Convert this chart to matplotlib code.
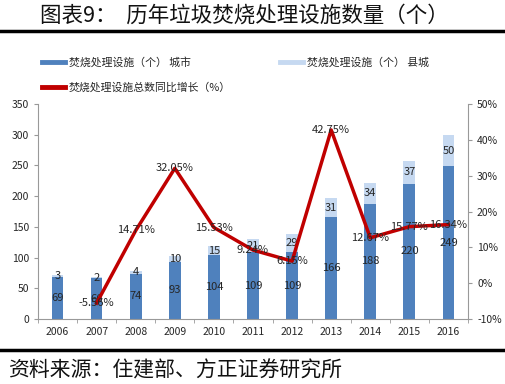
import numpy as np
import matplotlib
matplotlib.use("Agg")
import matplotlib.pyplot as plt
from matplotlib.lines import Line2D

plt.rcParams['font.family'] = ['Noto Sans CJK SC', 'DejaVu Sans']

years = ["2006", "2007", "2008", "2009", "2010", "2011", "2012", "2013", "2014", "2015", "2016"]
city = [69, 66, 74, 93, 104, 109, 109, 166, 188, 220, 249]
county = [3, 2, 4, 10, 15, 21, 29, 31, 34, 37, 50]
growth = [None, -5.56, 14.71, 32.05, 15.53, 9.24, 6.15, 42.75, 12.67, 15.77, 16.34]

C_CITY = "#4F81BD"
C_COUNTY = "#C6D9F1"
C_LINE = "#C00000"
TXT = "#262626"

fig = plt.figure(figsize=(5.05, 3.84), dpi=100)

# title and rules
fig.text(40 / 505, 1 - 16 / 384, "图表9：  历年垃圾焚烧处理设施数量（个）",
         fontsize=15.5, va="center", ha="left", color="#111111")
fig.add_artist(Line2D([0, 1], [1 - 31 / 384] * 2, color="black", lw=2.5))
fig.add_artist(Line2D([0, 1], [1 - 350 / 384] * 2, color="black", lw=2.5))
fig.text(8 / 505, 1 - 370 / 384, "资料来源：住建部、方正证券研究所",
         fontsize=15, va="center", ha="left", color="#111111", style="italic")

ax = fig.add_axes([38 / 505, 65 / 384, 430 / 505, 215 / 384])
x = np.arange(len(years))
w = 0.3
ax.bar(x, city, w, color=C_CITY, zorder=2)
ax.bar(x, county, w, bottom=city, color=C_COUNTY, zorder=2)
for i in range(len(years)):
    ax.text(x[i], city[i] / 2, str(city[i]), ha="center", va="center", fontsize=8, color=TXT, zorder=5)
    ax.text(x[i], city[i] + county[i] / 2, str(county[i]), ha="center", va="center", fontsize=8, color=TXT, zorder=5)

ax.set_xlim(-0.5, len(years) - 0.5)
ax.set_ylim(0, 350)
ax.set_yticks(np.arange(0, 351, 50))
ax.set_xticks(x)
ax.set_xticklabels(years)
ax.set_xticks(np.arange(-0.5, len(years), 1), minor=True)
ax.tick_params(axis="x", which="major", length=0, labelsize=7.5, colors=TXT, pad=6)
ax.tick_params(axis="x", which="minor", length=3, color="#999999")
ax.tick_params(axis="y", labelsize=7.5, colors=TXT, length=3, color="#999999")
for s in ["top", "right"]:
    ax.spines[s].set_visible(False)
for s in ["left", "bottom"]:
    ax.spines[s].set_color("#999999")

ax2 = ax.twinx()
gx = [xi for xi, g in zip(x, growth) if g is not None]
gy = [g for g in growth if g is not None]
ax2.plot(gx, gy, color=C_LINE, lw=2.5, zorder=3)
for xi, g in zip(gx, gy):
    ax2.text(xi, g, f"{g:.2f}%", ha="center", va="center", fontsize=8, color=TXT, zorder=6)
ax2.set_ylim(-10, 50)
ax2.set_yticks(np.arange(-10, 51, 10))
ax2.set_yticklabels([f"{v}%" for v in range(-10, 51, 10)])
ax2.tick_params(axis="y", labelsize=7.5, colors=TXT, length=3, color="#999999")
for s in ["top", "left", "bottom"]:
    ax2.spines[s].set_visible(False)
ax2.spines["right"].set_color("#999999")

# legend drawn manually at the reference positions
def leg(px, py, color, label):
    fig.add_artist(Line2D([px / 505, (px + 23) / 505], [1 - py / 384] * 2, color=color, lw=3.5))
    fig.text((px + 27) / 505, 1 - py / 384, label, fontsize=7.8, va="center", ha="left", color=TXT)

leg(42, 62, C_CITY, "焚烧处理设施（个） 城市")
leg(280, 62, C_COUNTY, "焚烧处理设施（个） 县城")
leg(42, 87, C_LINE, "焚烧处理设施总数同比增长（%）")

fig.savefig("out.png", dpi=100)
